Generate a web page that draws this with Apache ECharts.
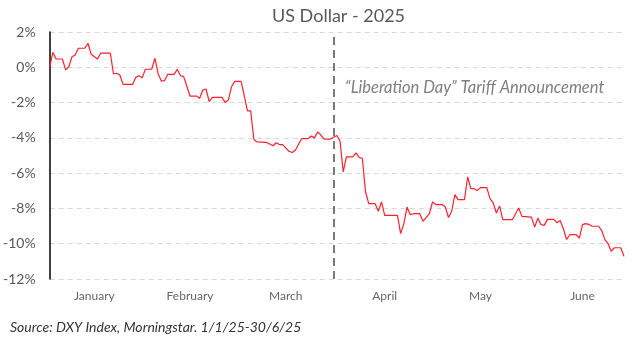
<!DOCTYPE html>
<html>
<head>
<meta charset="utf-8">
<script src="https://cdn.jsdelivr.net/npm/echarts@6/dist/echarts.min.js"></script>
<style>html,body{margin:0;padding:0;background:#fff;}#c{width:633px;height:343px;}</style>
</head>
<body>
<div id="c"></div>
<script>
const pointDates = [
 '2025-01-01','2025-01-02','2025-01-03','2025-01-05','2025-01-06','2025-01-07','2025-01-08','2025-01-09','2025-01-10','2025-01-12',
 '2025-01-13','2025-01-14','2025-01-16','2025-01-17','2025-01-20','2025-01-21','2025-01-22','2025-01-23','2025-01-24','2025-01-27',
 '2025-01-28','2025-01-29','2025-01-30','2025-01-31','2025-02-02','2025-02-03','2025-02-04','2025-02-05','2025-02-06','2025-02-07',
 '2025-02-09','2025-02-10','2025-02-11','2025-02-12','2025-02-14','2025-02-16','2025-02-17','2025-02-18','2025-02-19','2025-02-20',
 '2025-02-21','2025-02-24','2025-02-25','2025-02-26','2025-02-27','2025-02-28','2025-03-02','2025-03-04','2025-03-05','2025-03-06',
 '2025-03-07','2025-03-10','2025-03-12','2025-03-13','2025-03-14','2025-03-15','2025-03-17','2025-03-18','2025-03-19','2025-03-20',
 '2025-03-21','2025-03-23','2025-03-24','2025-03-25','2025-03-26','2025-03-27','2025-03-28','2025-03-30','2025-04-01','2025-04-02',
 '2025-04-03','2025-04-04','2025-04-06','2025-04-07','2025-04-08','2025-04-09','2025-04-10','2025-04-11','2025-04-13','2025-04-14',
 '2025-04-15','2025-04-16','2025-04-20','2025-04-21','2025-04-22','2025-04-23','2025-04-24','2025-04-25','2025-04-27','2025-04-28',
 '2025-04-30','2025-05-01','2025-05-02','2025-05-04','2025-05-05','2025-05-06','2025-05-07','2025-05-08','2025-05-09','2025-05-11',
 '2025-05-12','2025-05-13','2025-05-14','2025-05-15','2025-05-16','2025-05-18','2025-05-19','2025-05-20','2025-05-21','2025-05-22',
 '2025-05-23','2025-05-26','2025-05-28','2025-05-29','2025-06-01','2025-06-02','2025-06-03','2025-06-04','2025-06-05','2025-06-06',
 '2025-06-08','2025-06-09','2025-06-10','2025-06-11','2025-06-12','2025-06-13','2025-06-15','2025-06-16','2025-06-17','2025-06-18',
 '2025-06-19','2025-06-20','2025-06-22','2025-06-23','2025-06-24','2025-06-25','2025-06-26','2025-06-27','2025-06-29','2025-06-30'
];
const pointValues = [
 0.00, 0.85, 0.47, 0.47, -0.15, 0.03, 0.60, 0.70, 1.08, 1.08,
 1.36, 0.74, 0.47, 0.80, 0.80, -0.38, -0.34, -0.44, -0.97, -0.97,
 -0.57, -0.48, -0.60, -0.11, -0.11, 0.51, -0.38, -0.78, -0.76, -0.40,
 -0.40, -0.11, -0.48, -0.53, -1.63, -1.63, -1.76, -1.29, -1.23, -1.95,
 -1.70, -1.70, -1.99, -1.86, -1.10, -0.80, -0.80, -2.47, -2.47, -4.09,
 -4.23, -4.26, -4.45, -4.28, -4.38, -4.38, -4.76, -4.83, -4.70, -4.36,
 -4.04, -4.04, -3.90, -4.00, -3.66, -3.85, -4.07, -4.07, -3.87, -4.18,
 -5.93, -5.08, -5.08, -4.85, -5.11, -5.17, -7.07, -7.73, -7.73, -8.16,
 -7.63, -8.39, -8.39, -9.43, -8.86, -7.92, -8.35, -8.30, -8.30, -8.73,
 -8.30, -7.63, -7.78, -7.78, -7.92, -8.52, -8.16, -7.22, -7.50, -7.50,
 -6.22, -6.88, -6.88, -6.99, -6.82, -6.82, -7.44, -7.69, -8.26, -7.86,
 -8.64, -8.64, -7.98, -8.45, -8.49, -9.06, -8.55, -8.92, -8.96, -8.62,
 -8.62, -8.81, -8.68, -9.15, -9.76, -9.49, -9.49, -9.68, -8.92, -8.86,
 -8.90, -9.01, -9.01, -9.24, -9.77, -10.00, -10.43, -10.23, -10.23, -10.72
];
const monthLabelDates = ['2025-01-15','2025-02-14','2025-03-16','2025-04-16','2025-05-16','2025-06-17'];
const monthNames = ['January','February','March','April','May','June'];
const eventDate = '2025-03-31';
const eventLabel = '\u201CLiberation Day\u201D Tariff Announcement';
const yTicks = { min: -12, max: 2, step: 2 };

// calendar-day categories for the x axis
const allDates = [];
for (let t = Date.UTC(2025,0,1); t <= Date.UTC(2025,5,30); t += 86400000) {
  allDates.push(new Date(t).toISOString().slice(0,10));
}
const lookup = {};
pointDates.forEach((d,i)=>{ lookup[d] = pointValues[i]; });
const seriesData = allDates.map(d => (d in lookup) ? lookup[d] : null);

const chart = echarts.init(document.getElementById('c'), null, {renderer:'canvas'});
const FONT = 'Lato';
chart.setOption({
  animation: false,
  backgroundColor: '#fff',
  title: {
    text: 'US Dollar - 2025',
    left: 267, top: 2,
    textStyle: { fontFamily: FONT, fontSize: 18, fontWeight: 'normal', color: '#595959' }
  },
  grid: { left: 47, right: 9, top: 32, bottom: 64, containLabel: false },
  xAxis: {
    type: 'category',
    data: allDates,
    boundaryGap: false,
    axisLine: { show: false },
    axisTick: { show: false },
    splitLine: { show: false },
    axisLabel: {
      interval: (idx, val) => monthLabelDates.includes(val),
      formatter: (val) => { const k = monthLabelDates.indexOf(val); return k >= 0 ? monthNames[k] : ''; },
      color: '#666', fontFamily: FONT, fontSize: 12, margin: 11
    }
  },
  yAxis: {
    type: 'value',
    min: yTicks.min, max: yTicks.max, interval: yTicks.step,
    axisLine: { show: true, lineStyle: { color: '#000', width: 1.5 } },
    axisTick: { show: false },
    axisLabel: { formatter: '{value}%', color: '#595959', fontFamily: FONT, fontSize: 14, margin: 14 },
    splitLine: { show: true, lineStyle: { color: '#d9d9d9', type: [5, 4], width: 1 } }
  },
  graphic: [
    { type: 'text', left: 345, top: 79,
      style: { text: eventLabel, fill: '#7f7f7f', font: 'italic 16.5px Lato' } },
    { type: 'text', left: 10, top: 320,
      style: { text: 'Source: DXY Index, Morningstar. 1/1/25-30/6/25', fill: '#333', font: 'italic 14px Lato' } }
  ],
  series: [{
    type: 'line',
    data: seriesData,
    connectNulls: true,
    showSymbol: false,
    symbol: 'none',
    lineStyle: { color: '#ff1f2f', width: 1.2 },
    markLine: {
      silent: true,
      symbol: ['none','none'],
      label: { show: false },
      lineStyle: { color: '#7a7a7a', type: [8, 5], width: 2 },
      data: [ { xAxis: eventDate } ]
    }
  }]
});
</script>
</body>
</html>
